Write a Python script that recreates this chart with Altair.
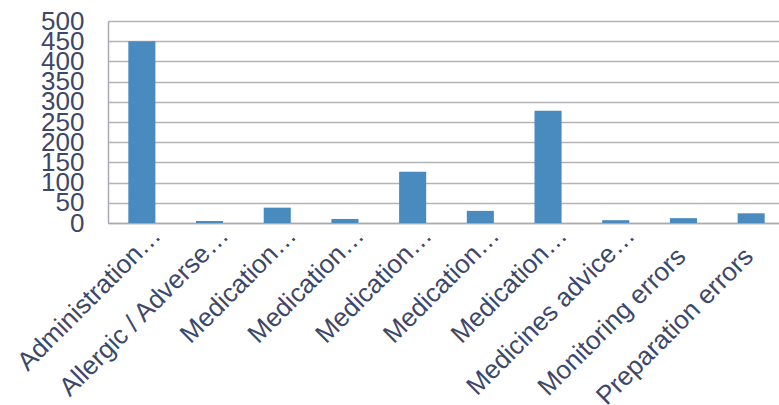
import altair as alt
import pandas as pd
import json

# Incident categories (labels as printed on the axis) and their counts
labels = [
    "Administration…",
    "Allergic / Adverse…",
    "Medication…",
    "Medication…",
    "Medication…",
    "Medication…",
    "Medication…",
    "Medicines advice…",
    "Monitoring errors",
    "Preparation errors",
]
counts = [450, 5, 38, 10, 127, 30, 278, 7, 12, 24]

df = pd.DataFrame({"idx": list(range(len(labels))), "count": counts})

# several categories share the same shortened label, so the axis is keyed by position
label_expr = json.dumps(labels).replace('"', "'") + "[datum.value]"
is_short = "indexof(" + label_expr + ", '…') >= 0"

text_color = "#3D4769"
font = "Liberation Sans"

chart = (
    alt.Chart(df)
    .mark_bar(color="#4A8BBF")
    .encode(
        x=alt.X(
            "idx:O",
            title=None,
            scale=alt.Scale(range=[0, 677], paddingInner=0.6, paddingOuter=0.3),
            axis=alt.Axis(
                labelExpr=label_expr,
                labelAngle=-45,
                labelAlign="right",
                labelBaseline="middle",
                labelFontSize=26,
                labelFont=font,
                labelColor=text_color,
                labelLimit=0,
                labelPadding={"condition": {"test": is_short, "value": 8}, "value": 29},
                labelOffset={"condition": {"test": is_short, "value": 15}, "value": -2},
                ticks=False,
                domainColor="#A8AAB6",
                domainWidth=1.5,
                labelOverlap=False,
            ),
        ),
        y=alt.Y(
            "count:Q",
            title=None,
            scale=alt.Scale(domain=[0, 500], nice=False),
            axis=alt.Axis(
                values=list(range(0, 501, 50)),
                labelFontSize=26,
                labelFont=font,
                labelColor=text_color,
                labelPadding=24,
                ticks=False,
                domainColor="#A8AAB6",
                domainWidth=1.5,
                gridColor="#B4B4B8",
                gridWidth=1.5,
                labelOverlap=False,
            ),
        ),
    )
    .properties(
        width=671,
        height=202,
        autosize=alt.AutoSizeParams(type="none"),
        padding={"left": 108, "top": 21, "right": 0, "bottom": 182},
    )
    .configure_view(stroke=None)
    .configure(background="white")
)

chart.save("out.html", embed_options={"renderer": "svg", "actions": False})
